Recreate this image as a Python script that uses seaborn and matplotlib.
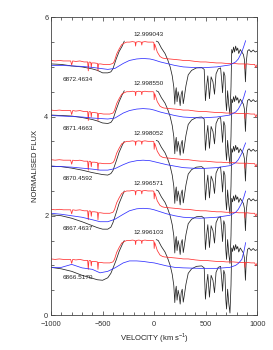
import numpy as np
import pandas as pd
import matplotlib
matplotlib.use("Agg")
import matplotlib.pyplot as plt
from matplotlib.ticker import MultipleLocator
import seaborn as sns

# ---------------- data ----------------
offsets = [5, 4, 3, 2, 1]
dates = ["6872.4634", "6871.4663", "6870.4592", "6867.4637", "6866.5170"]
phases = ["12.999043", "12.998550", "12.998052", "12.996571", "12.996103"]

# black spectrum, blue wing (per spectrum, relative flux)
black_left_v = [-1000, -900, -800, -700, -600, -550, -500, -450, -420, -400, -370, -340, -310, -290]
black_left = [
    [1.06, 1.05, 1.02, 1.00, 0.96, 0.93, 0.88, 0.88, 0.90, 0.96, 1.15, 1.31, 1.42, 1.52],
    [1.03, 1.02, 1.01, 0.98, 0.94, 0.91, 0.87, 0.86, 0.88, 0.94, 1.13, 1.30, 1.44, 1.52],
    [1.00, 0.99, 0.96, 0.92, 0.87, 0.85, 0.83, 0.82, 0.85, 0.91, 1.09, 1.28, 1.42, 1.50],
    [1.02, 1.00, 0.95, 0.88, 0.80, 0.76, 0.73, 0.73, 0.77, 0.86, 1.05, 1.25, 1.40, 1.50],
    [0.96, 0.93, 0.88, 0.80, 0.74, 0.71, 0.70, 0.75, 0.84, 0.94, 1.10, 1.28, 1.42, 1.50],
]

# black spectrum, red wing + telluric region (common shape)
black_right = [
    (20, 1.52), (40, 1.50), (70, 1.38), (105, 1.27), (130, 1.15), (155, 1.00), (175, 0.82),
    (190, 0.60), (200, 0.25), (206, 0.48), (214, 0.58), (222, 0.30), (232, 0.50), (242, 0.40),
    (252, 0.22), (262, 0.45), (272, 0.52), (282, 0.26), (294, 0.42), (308, 0.62), (330, 0.84),
    (363, 0.93), (410, 0.98), (460, 0.99), (485, 0.95), (497, 0.32), (508, 0.60), (520, 0.82),
    (536, 0.36), (552, 0.80), (570, 0.70), (585, 0.45), (600, 0.86), (621, 0.96), (644, 0.98),
    (655, 0.72), (663, 0.48), (675, 0.90), (686, 0.82), (695, 0.30), (702, 0.12), (712, 0.52),
    (724, 0.22), (735, 0.04), (745, 0.60), (752, 1.35), (760, 1.28), (770, 1.40), (780, 1.30),
    (790, 1.42), (800, 1.33), (810, 1.38), (820, 1.27), (835, 1.35), (850, 1.30), (865, 1.25),
    (875, 1.15), (885, 0.70), (893, 1.10), (905, 1.32), (920, 1.35), (940, 1.30), (960, 1.34),
    (980, 1.30), (1000, 1.32),
]

# red spectrum (common shape)
red_profile = [
    (-1000, 1.13), (-960, 1.12), (-920, 1.13), (-880, 1.12), (-840, 1.12), (-810, 1.12),
    (-800, 1.04), (-790, 1.12), (-760, 1.11), (-720, 1.12), (-680, 1.10), (-645, 1.10),
    (-639, 0.92), (-633, 1.09), (-625, 1.10), (-615, 1.09), (-610, 0.99), (-605, 1.08),
    (-580, 1.08), (-550, 1.07), (-545, 0.92), (-540, 1.06), (-520, 1.06), (-490, 1.05),
    (-460, 1.05), (-430, 1.05), (-400, 1.07), (-385, 1.12), (-364, 1.26), (-340, 1.36),
    (-315, 1.45), (-290, 1.48), (-267, 1.50), (-240, 1.50), (-210, 1.51), (-185, 1.50),
    (-180, 1.42), (-175, 1.50), (-150, 1.51), (-125, 1.50), (-120, 1.44), (-115, 1.50),
    (-90, 1.51), (-60, 1.50), (-30, 1.50), (-10, 1.50), (-3, 1.49), (0, 1.34), (5, 1.46),
    (15, 1.40), (30, 1.30), (56, 1.21), (80, 1.18), (100, 1.17), (150, 1.16), (200, 1.15),
    (250, 1.14), (282, 1.13), (330, 1.13), (400, 1.11), (450, 1.10), (500, 1.10), (550, 1.09),
    (605, 1.08), (650, 1.08), (700, 1.07), (767, 1.07), (820, 1.06), (860, 1.06), (875, 1.06),
    (880, 0.96), (885, 1.06), (900, 1.06), (940, 1.05), (975, 1.05), (985, 0.99), (1000, 1.05),
]

# blue (model) profile per spectrum
blue_v = [-1000, -900, -800, -700, -600, -525, -450, -380, -300, -240, -170, -108, -41, 0,
          60, 120, 200, 282, 444, 605, 735, 790, 816, 850, 870, 887]
blue = [
    [1.03, 1.03, 1.02, 1.01, 0.99, 0.97, 0.95, 0.97, 1.07, 1.13, 1.16, 1.17, 1.16, 1.14,
     1.10, 1.07, 1.03, 1.00, 0.98, 1.00, 1.04, 1.10, 1.16, 1.30, 1.42, 1.53],
    [1.02, 1.01, 1.00, 0.99, 0.97, 0.96, 0.95, 0.97, 1.07, 1.12, 1.15, 1.16, 1.15, 1.13,
     1.09, 1.06, 1.02, 0.99, 0.97, 0.99, 1.03, 1.09, 1.15, 1.28, 1.40, 1.52],
    [1.00, 0.99, 0.98, 0.96, 0.94, 0.92, 0.92, 0.95, 1.03, 1.08, 1.11, 1.12, 1.11, 1.09,
     1.06, 1.03, 1.00, 0.97, 0.95, 0.97, 1.01, 1.07, 1.13, 1.26, 1.38, 1.47],
    [1.05, 1.03, 1.00, 0.97, 0.92, 0.88, 0.88, 0.93, 1.03, 1.10, 1.14, 1.15, 1.14, 1.12,
     1.08, 1.04, 1.00, 0.97, 0.95, 0.97, 1.01, 1.07, 1.13, 1.26, 1.38, 1.50],
    [0.96, 0.96, 1.02, 0.95, 0.92, 0.85, 0.88, 0.95, 1.05, 1.09, 1.09, 1.08, 1.06, 1.05,
     1.02, 0.99, 0.96, 0.95, 0.94, 0.94, 0.96, 1.00, 1.04, 1.12, 1.28, 1.46],
]

# ---------------- plot ----------------
sns.set_theme(style="ticks")
plt.rcParams["font.family"] = ["Liberation Sans", "DejaVu Sans"]
plt.rcParams["mathtext.fontset"] = "custom"
plt.rcParams["mathtext.rm"] = "Liberation Sans"

fig = plt.figure(figsize=(2.73, 3.50), dpi=100)
ax = fig.add_axes([0.187, 0.10, 0.7555, 0.8506])

lw = 0.55
rv = [p[0] for p in red_profile]
rf = [p[1] for p in red_profile]
brv = [p[0] for p in black_right]
brf = [p[1] for p in black_right]

for i, off in enumerate(offsets):
    dl = pd.DataFrame({"v": black_left_v, "f": np.array(black_left[i]) - 1 + off})
    dr = pd.DataFrame({"v": brv, "f": np.array(brf) - 1 + off})
    dred = pd.DataFrame({"v": rv, "f": np.array(rf) - 1 + off})
    dblue = pd.DataFrame({"v": blue_v, "f": np.array(blue[i]) - 1 + off})
    sns.lineplot(data=dl, x="v", y="f", ax=ax, color="#222222", lw=lw, sort=False, estimator=None)
    sns.lineplot(data=dr, x="v", y="f", ax=ax, color="#222222", lw=lw, sort=False, estimator=None)
    sns.lineplot(data=dred, x="v", y="f", ax=ax, color="#ff3030", lw=lw, sort=False, estimator=None)
    sns.lineplot(data=dblue, x="v", y="f", ax=ax, color="#3030ff", lw=lw, sort=False, estimator=None)
    ax.text(-890, off - 0.25, dates[i], fontsize=4.6, ha="left", va="center", color="#222222")
    ax.text(-50, off + 0.66, phases[i], fontsize=4.6, ha="center", va="center", color="#222222")

ax.set_xlim(-1000, 1000)
ax.set_ylim(0, 6)
ax.xaxis.set_major_locator(MultipleLocator(500))
ax.xaxis.set_minor_locator(MultipleLocator(100))
ax.yaxis.set_major_locator(MultipleLocator(2))
ax.yaxis.set_minor_locator(MultipleLocator(0.5))
ax.tick_params(which="both", direction="in", top=True, right=True, labelsize=5.3,
               colors="#333333", width=0.5)
ax.tick_params(which="major", length=3)
ax.tick_params(which="minor", length=2)
ax.tick_params(axis="x", which="major", pad=4.5)
ax.tick_params(axis="y", which="major", pad=2)
for s in ax.spines.values():
    s.set_linewidth(0.6)
    s.set_color("#444444")

ax.set_xlabel("VELOCITY (km s$^{-1}$)", fontsize=5.5, labelpad=2, color="#222222")
ax.set_ylabel("NORMALISED FLUX", fontsize=5.5, labelpad=4, color="#222222")

fig.savefig("out.png", dpi=100)
